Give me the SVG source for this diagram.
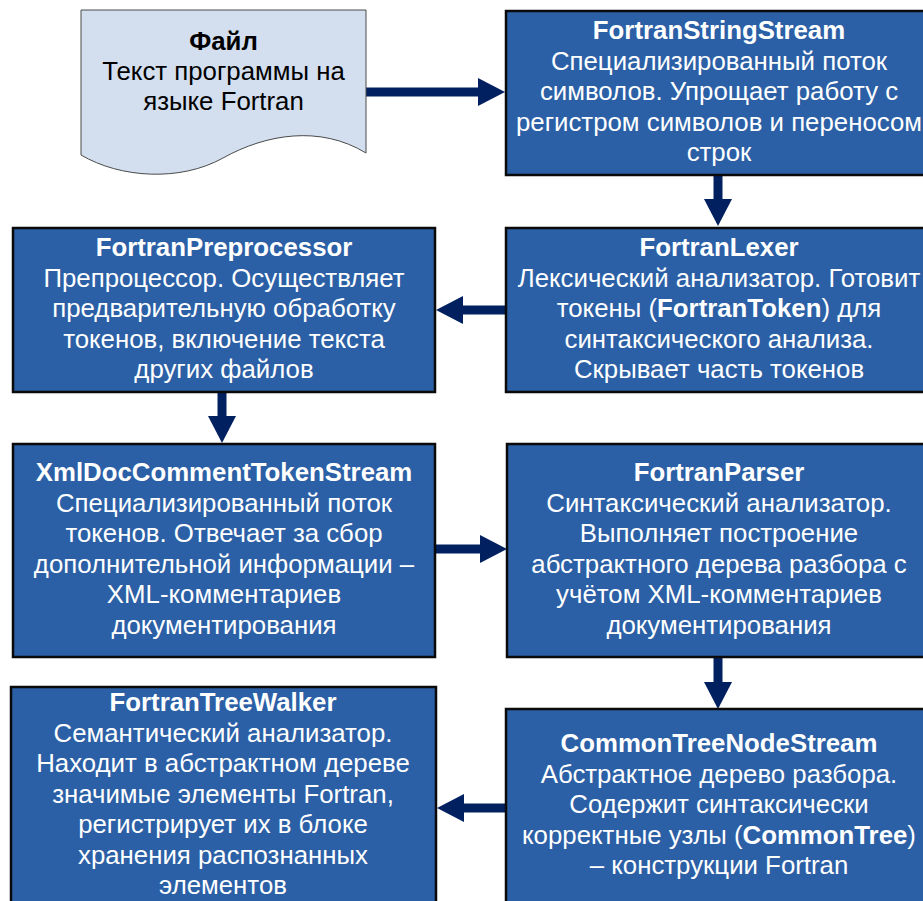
<svg xmlns="http://www.w3.org/2000/svg" width="923" height="901" viewBox="0 0 923 901">
  <style>
    .box { fill: #2B60A6; stroke: #0A0A0A; stroke-width: 2.5; }
    .doc { fill: #D3DFEE; stroke: #4A4A4A; stroke-width: 1; }
    text { font-family: "Liberation Sans", Arial, sans-serif; font-size: 25.8px; text-anchor: middle; }
    .lbl { fill: #FFFFFF; }
    .dark { fill: #000000; }
    .b { font-weight: bold; }
    .conn { stroke: #002060; stroke-width: 9; fill: none; marker-end: url(#head); }
  </style>
  <defs>
    <marker id="head" viewBox="0 0 27 28" refX="0" refY="14" markerWidth="27" markerHeight="28" markerUnits="userSpaceOnUse" orient="auto">
      <path d="M0,0 L27,14 L0,28 Z" fill="#002060"/>
    </marker>
  </defs>

  <rect width="923" height="901" fill="#FFFFFF"/>

  <!-- connectors: each line stops at the arrowhead base, the marker adds the tip -->
  <g id="connectors">
    <line class="conn" x1="366" y1="92" x2="478" y2="92"/>
    <line class="conn" x1="718" y1="175" x2="718" y2="199"/>
    <line class="conn" x1="506" y1="310" x2="463" y2="310"/>
    <line class="conn" x1="222" y1="392" x2="222" y2="416"/>
    <line class="conn" x1="435" y1="549" x2="480" y2="549"/>
    <line class="conn" x1="718" y1="657" x2="718" y2="682"/>
    <line class="conn" x1="506" y1="808" x2="464" y2="808"/>
  </g>

  <!-- source file (document shape) -->
  <g id="file">
    <path class="doc" d="M81,10 H366 V153 C 320,125 266,134 223,158 C 180,182 120,178 81,155 Z"/>
    <text class="dark" x="223.5" y="50"><tspan class="b">Файл</tspan></text>
    <text class="dark" x="223.5" y="80">Текст программы на</text>
    <text class="dark" x="223.5" y="110">языке Fortran</text>
  </g>

  <g id="fortran-string-stream">
    <rect class="box" x="506" y="11" width="426" height="164"/>
    <text class="lbl b" x="719" y="39">FortranStringStream</text>
    <text class="lbl" x="719" y="69.5">Специализированный поток</text>
    <text class="lbl" x="719" y="100">символов. Упрощает работу с</text>
    <text class="lbl" x="719" y="130.5">регистром символов и переносом</text>
    <text class="lbl" x="719" y="161">строк</text>
  </g>

  <g id="fortran-lexer">
    <rect class="box" x="506" y="228" width="426" height="164"/>
    <text class="lbl b" x="719" y="256">FortranLexer</text>
    <text class="lbl" x="719" y="286.5">Лексический анализатор. Готовит</text>
    <text class="lbl" x="719" y="317">токены (<tspan class="b">FortranToken</tspan>) для</text>
    <text class="lbl" x="719" y="347.5">синтаксического анализа.</text>
    <text class="lbl" x="719" y="378">Скрывает часть токенов</text>
  </g>

  <g id="fortran-preprocessor">
    <rect class="box" x="13" y="228" width="422" height="164"/>
    <text class="lbl b" x="224" y="256">FortranPreprocessor</text>
    <text class="lbl" x="224" y="286.5">Препроцессор. Осуществляет</text>
    <text class="lbl" x="224" y="317">предварительную обработку</text>
    <text class="lbl" x="224" y="347.5">токенов, включение текста</text>
    <text class="lbl" x="224" y="378">других файлов</text>
  </g>

  <g id="xml-doc-comment-token-stream">
    <rect class="box" x="13" y="444" width="422" height="213"/>
    <text class="lbl b" x="224" y="481">XmlDocCommentTokenStream</text>
    <text class="lbl" x="224" y="511.5">Специализированный поток</text>
    <text class="lbl" x="224" y="542">токенов. Отвечает за сбор</text>
    <text class="lbl" x="224" y="572.5">дополнительной информации –</text>
    <text class="lbl" x="224" y="603">XML-комментариев</text>
    <text class="lbl" x="224" y="633.5">документирования</text>
  </g>

  <g id="fortran-parser">
    <rect class="box" x="507" y="444" width="426" height="213"/>
    <text class="lbl b" x="719" y="481">FortranParser</text>
    <text class="lbl" x="719" y="511.5">Синтаксический анализатор.</text>
    <text class="lbl" x="719" y="542">Выполняет построение</text>
    <text class="lbl" x="719" y="572.5">абстрактного дерева разбора с</text>
    <text class="lbl" x="719" y="603">учётом XML-комментариев</text>
    <text class="lbl" x="719" y="633.5">документирования</text>
  </g>

  <g id="fortran-tree-walker">
    <rect class="box" x="11" y="687" width="425" height="240"/>
    <text class="lbl b" x="223" y="711">FortranTreeWalker</text>
    <text class="lbl" x="223" y="741.5">Семантический анализатор.</text>
    <text class="lbl" x="223" y="772">Находит в абстрактном дереве</text>
    <text class="lbl" x="223" y="802.5">значимые элементы Fortran,</text>
    <text class="lbl" x="223" y="833">регистрирует их в блоке</text>
    <text class="lbl" x="223" y="863.5">хранения распознанных</text>
    <text class="lbl" x="223" y="894">элементов</text>
  </g>

  <g id="common-tree-node-stream">
    <rect class="box" x="506" y="709" width="426" height="220"/>
    <text class="lbl b" x="719" y="752">CommonTreeNodeStream</text>
    <text class="lbl" x="719" y="782.5">Абстрактное дерево разбора.</text>
    <text class="lbl" x="719" y="813">Содержит синтаксически</text>
    <text class="lbl" x="719" y="843.5">корректные узлы (<tspan class="b">CommonTree</tspan>)</text>
    <text class="lbl" x="719" y="874">– конструкции Fortran</text>
  </g>
</svg>
